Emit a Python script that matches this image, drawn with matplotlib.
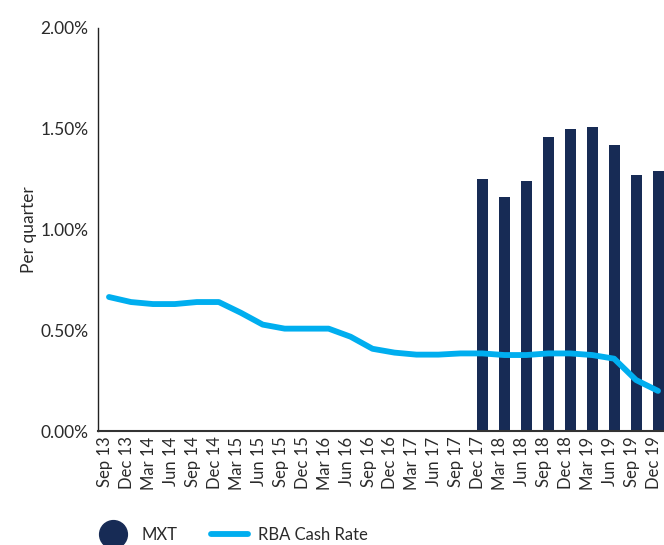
import matplotlib
matplotlib.use("Agg")
import matplotlib.pyplot as plt
import matplotlib.transforms as mtransforms
from matplotlib.lines import Line2D
import numpy as np

plt.rcParams['font.family'] = ['Lato', 'DejaVu Sans']

quarters = ["Sep 13", "Dec 13", "Mar 14", "Jun 14", "Sep 14", "Dec 14", "Mar 15", "Jun 15",
            "Sep 15", "Dec 15", "Mar 16", "Jun 16", "Sep 16", "Dec 16", "Mar 17", "Jun 17",
            "Sep 17", "Dec 17", "Mar 18", "Jun 18", "Sep 18", "Dec 18", "Mar 19", "Jun 19",
            "Sep 19", "Dec 19"]
mxt = [np.nan] * 17 + [1.25, 1.16, 1.24, 1.46, 1.50, 1.51, 1.42, 1.27, 1.29]
rba = [0.665, 0.64, 0.63, 0.63, 0.64, 0.64, 0.587, 0.528, 0.508, 0.508, 0.508, 0.468,
       0.408, 0.389, 0.379, 0.379, 0.385, 0.385, 0.377, 0.377, 0.385, 0.385, 0.377,
       0.359, 0.253, 0.199]
yticks = [0.0, 0.5, 1.0, 1.5, 2.0]

bar_color = "#172B55"
line_color = "#00AEEF"
text_color = "#2a2a2a"

fig = plt.figure(figsize=(6.64, 5.45), dpi=100)
ax = fig.add_axes([98/664, 1 - 431/545, 571/664, 403/545])

x = np.arange(len(quarters))
ax.bar(x, mxt, width=0.5, color=bar_color, zorder=2)
ax.plot(x, rba, color=line_color, lw=4.2, solid_capstyle='round', solid_joinstyle='round', zorder=3)

ax.set_xlim(-0.5, len(quarters) - 0.5)
ax.set_ylim(0, 2.0)
ax.set_yticks(yticks)
ax.set_yticklabels([f"{v:.2f}%" for v in yticks], fontsize=12.5, color=text_color)
ax.set_xticks(x)
ax.set_xticklabels(quarters, rotation=90, fontsize=12, color=text_color)
ax.tick_params(axis='both', length=0)
ax.tick_params(axis='y', pad=7)
ax.tick_params(axis='x', pad=4)
shift = mtransforms.ScaledTranslation(-4/100, 0, fig.dpi_scale_trans)
for lbl in ax.get_xticklabels():
    lbl.set_transform(lbl.get_transform() + shift)
ax.set_ylabel("Per quarter", fontsize=12.5, color=text_color, labelpad=2)

for s in ['top', 'right']:
    ax.spines[s].set_visible(False)
ax.spines['left'].set_color("#222222")
ax.spines['bottom'].set_color("#333333")
ax.spines['left'].set_linewidth(1.0)
ax.spines['bottom'].set_linewidth(1.5)

handles = [Line2D([], [], marker='o', linestyle='none', markersize=20, color=bar_color, label="MXT"),
           Line2D([], [], color=line_color, lw=4.2, solid_capstyle='round', label="RBA Cash Rate")]
fig.legend(handles=handles, loc='center left', bbox_to_anchor=(95/664, 1 - 535/545), ncol=2,
           frameon=False, fontsize=12, handlelength=2.2, columnspacing=2.0, handletextpad=0.6,
           borderaxespad=0, borderpad=0, labelcolor=text_color)

fig.savefig("out.png", dpi=100)
